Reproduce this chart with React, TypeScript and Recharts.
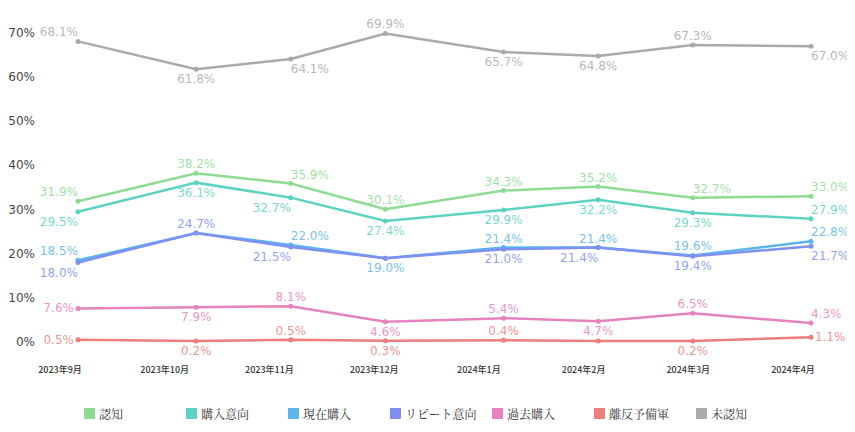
import { LabelList, Line, LineChart, XAxis, YAxis } from "recharts";

// survey waves, in weeks after the first one
const WEEKS = [0, 5, 9, 13, 18, 22, 26, 31];
const MONTH_LABELS = [
  "2023年9月",
  "2023年10月",
  "2023年11月",
  "2023年12月",
  "2024年1月",
  "2024年2月",
  "2024年3月",
  "2024年4月"
];
const Y_TICKS = [0, 10, 20, 30, 40, 50, 60, 70];

const awareness = [31.9, 38.2, 35.9, 30.1, 34.3, 35.2, 32.7, 33.0];
const purchaseIntent = [29.5, 36.1, 32.7, 27.4, 29.9, 32.2, 29.3, 27.9];
const currentPurchase = [18.5, 24.7, 22.0, 19.0, 21.4, 21.4, 19.6, 22.8];
const repeatIntent = [18.0, 24.7, 21.5, 19.0, 21.0, 21.4, 19.4, 21.7];
const pastPurchase = [7.6, 7.9, 8.1, 4.6, 5.4, 4.7, 6.5, 4.3];
const churnRisk = [0.5, 0.2, 0.5, 0.3, 0.4, 0.2, 0.2, 1.1];
const unaware = [68.1, 61.8, 64.1, 69.9, 65.7, 64.8, 67.3, 67.0];

// where each value label sits relative to its point (n = hidden)
type Place = "t" | "b" | "l" | "r" | "tl" | "tr" | "bl" | "br" | "n";
const awarenessPlace: Place[] = ["tl", "t", "tr", "t", "t", "t", "tr", "tr"];
const purchaseIntentPlace: Place[] = ["bl", "b", "bl", "b", "b", "b", "b", "tr"];
const currentPurchasePlace: Place[] = ["tl", "n", "tr", "b", "t", "t", "t", "tr"];
const repeatIntentPlace: Place[] = ["bl", "t", "bl", "n", "b", "bl", "b", "br"];
const pastPurchasePlace: Place[] = ["l", "b", "t", "b", "t", "b", "t", "tr"];
const churnRiskPlace: Place[] = ["l", "b", "t", "b", "t", "n", "b", "r"];
const unawarePlace: Place[] = ["tl", "b", "br", "t", "b", "b", "t", "br"];

const series = [
  { key: "awareness", name: "認知", color: "#8ddc92", values: awareness, place: awarenessPlace },
  { key: "purchaseIntent", name: "購入意向", color: "#5cd3c2", values: purchaseIntent, place: purchaseIntentPlace },
  { key: "currentPurchase", name: "現在購入", color: "#5ab6ec", values: currentPurchase, place: currentPurchasePlace },
  { key: "repeatIntent", name: "リピート意向", color: "#7e90f1", values: repeatIntent, place: repeatIntentPlace },
  { key: "pastPurchase", name: "過去購入", color: "#e682bd", values: pastPurchase, place: pastPurchasePlace },
  { key: "churnRisk", name: "離反予備軍", color: "#ec7e7e", values: churnRisk, place: churnRiskPlace },
  { key: "unaware", name: "未認知", color: "#aaaaaa", values: unaware, place: unawarePlace }
];

const rows = WEEKS.map((week, i) => {
  const row: Record<string, number> = { week };
  series.forEach((s) => {
    row[s.key] = s.values[i];
  });
  return row;
});

// month ticks are evenly spaced, slightly ahead of the survey points
const TICK_START = -0.76;
const TICK_STEP = 31 / 7;
const xTicks = MONTH_LABELS.map((_, i) => TICK_START + i * TICK_STEP);

const NUM_FONT = "'DejaVu Sans', sans-serif";

function makeLabel(color: string, place: Place[]) {
  return (props: any) => {
    const { x, y, value, index } = props;
    const p = place[index];
    if (p === "n" || value == null) return null;
    let dx = 0;
    let dy = 0;
    let anchor: "start" | "middle" | "end" = "middle";
    if (p.includes("t")) dy = -9;
    if (p.includes("b")) dy = 10;
    if (p === "tl" || p === "bl") anchor = "end";
    if (p === "tr" || p === "br") anchor = "start";
    if (p === "l") {
      anchor = "end";
      dx = -4;
    }
    if (p === "r") {
      anchor = "start";
      dx = 4;
    }
    return (
      <text
        x={x + dx}
        y={y + dy}
        fill={color}
        fillOpacity={0.85}
        fontSize={12}
        fontFamily={NUM_FONT}
        textAnchor={anchor}
        dominantBaseline="central"
      >
        {Number(value).toFixed(1)}%
      </text>
    );
  };
}

function YTick(props: any) {
  const { y, payload } = props;
  return (
    <text x={27} y={y} fill="#444" fontSize={12} fontFamily={NUM_FONT} textAnchor="end" dominantBaseline="central">
      {payload.value}%
    </text>
  );
}

function XTick(props: any) {
  const { x, payload, index } = props;
  return (
    <text
      x={x}
      y={361}
      fill="#333"
      fontSize={9}
      fontWeight={500}
      fontFamily="'Noto Sans CJK JP', sans-serif"
      textAnchor="middle"
      dominantBaseline="central"
    >
      {MONTH_LABELS[index] ?? payload.value}
    </text>
  );
}

export default function App() {
  return (
    <div style={{ position: "relative", width: 840, height: 420 }}>
      <LineChart width={840} height={380} data={rows} margin={{ top: 25, right: 37, bottom: 16, left: 8 }}>
        <XAxis
          dataKey="week"
          type="number"
          domain={[TICK_START, 31]}
          ticks={xTicks}
          interval={0}
          axisLine={false}
          tickLine={false}
          height={30}
          tick={<XTick />}
        />
        <YAxis
          type="number"
          domain={[0, 70]}
          ticks={Y_TICKS}
          axisLine={false}
          tickLine={false}
          width={44}
          tick={<YTick />}
        />
        {series.map((s) => (
          <Line
            key={s.key}
            dataKey={s.key}
            name={s.name}
            type="linear"
            stroke={s.color}
            strokeWidth={2.5}
            dot={{ r: 2.5, fill: s.color, stroke: s.color, strokeWidth: 0 }}
            activeDot={false}
            isAnimationActive={false}
          >
            <LabelList dataKey={s.key} content={makeLabel(s.color, s.place)} />
          </Line>
        ))}
      </LineChart>
      <div style={{ position: "absolute", left: 76, top: 400, display: "flex" }}>
        {series.map((s) => (
          <div key={s.key} style={{ width: 102, display: "flex", alignItems: "center" }}>
            <span style={{ width: 11, height: 11, background: s.color, display: "inline-block", marginRight: 4 }} />
            <span style={{ fontSize: 12, color: "#333", fontFamily: "'Noto Serif CJK JP', serif", lineHeight: "11px" }}>
              {s.name}
            </span>
          </div>
        ))}
      </div>
    </div>
  );
}
